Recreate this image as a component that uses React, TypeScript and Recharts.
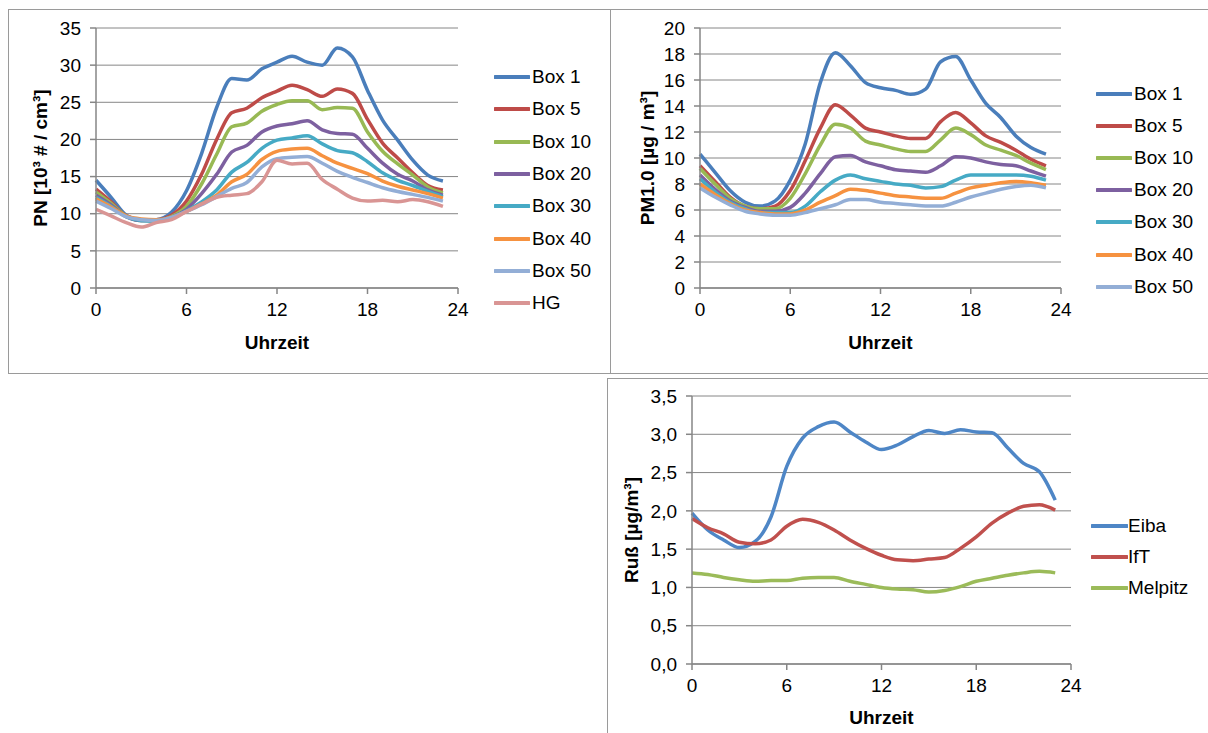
import React from 'react';
import { LineChart, Line, XAxis, YAxis, CartesianGrid, Legend, Label } from 'recharts';

// ---------- data ----------
const hours = [0, 1, 2, 3, 4, 5, 6, 7, 8, 9, 10, 11, 12, 13, 14, 15, 16, 17, 18, 19, 20, 21, 22, 23];

// PN [10^3 # / cm^3]
const pnNames = ['Box 1', 'Box 5', 'Box 10', 'Box 20', 'Box 30', 'Box 40', 'Box 50', 'HG'];
const pnBox1 = [14.5, 12.2, 9.8, 9.1, 9.2, 10.2, 13.1, 18.1, 24.3, 28.2, 28.0, 29.5, 30.4, 31.2, 30.4, 30.0, 32.3, 31.1, 26.6, 22.6, 19.9, 17.2, 15.2, 14.4];
const pnBox5 = [13.3, 11.6, 9.7, 9.2, 9.2, 9.8, 11.7, 15.3, 20.0, 23.6, 24.2, 25.6, 26.5, 27.3, 26.7, 25.8, 26.8, 26.2, 22.7, 19.5, 17.5, 15.5, 13.8, 13.2];
const pnBox10 = [12.9, 11.4, 9.7, 9.1, 9.1, 9.6, 11.0, 14.0, 18.0, 21.7, 22.2, 23.8, 24.7, 25.2, 25.2, 24.0, 24.3, 24.2, 21.0, 18.4, 16.7, 15.2, 13.6, 12.8];
const pnBox20 = [12.5, 11.2, 9.6, 9.1, 9.1, 9.5, 10.6, 12.7, 15.3, 18.3, 19.2, 21.0, 21.8, 22.1, 22.5, 21.3, 20.8, 20.7, 18.8, 16.8, 15.3, 14.4, 13.2, 12.5];
const pnBox30 = [12.2, 11.0, 9.6, 9.1, 9.0, 9.4, 10.4, 11.6, 13.2, 15.6, 16.9, 18.8, 19.9, 20.2, 20.5, 19.4, 18.5, 18.2, 17.0, 15.5, 14.5, 13.8, 13.0, 12.3];
const pnBox40 = [12.0, 10.9, 9.7, 9.3, 9.2, 9.5, 10.3, 11.3, 12.5, 14.3, 15.3, 17.3, 18.4, 18.7, 18.8, 17.8, 16.8, 16.1, 15.4, 14.4, 13.7, 13.2, 12.7, 12.1];
const pnBox50 = [11.7, 10.7, 9.6, 9.2, 9.1, 9.5, 10.3, 11.2, 12.3, 13.4, 14.2, 16.3, 17.4, 17.6, 17.7, 16.8, 15.7, 14.9, 14.2, 13.5, 13.0, 12.6, 12.2, 11.7];
const pnHG = [10.6, 9.7, 8.8, 8.2, 8.8, 9.2, 10.3, 11.3, 12.2, 12.5, 12.7, 14.3, 17.2, 16.7, 16.8, 14.6, 13.3, 12.1, 11.7, 11.8, 11.6, 11.9, 11.6, 11.0];
const pnTicks = [0, 5, 10, 15, 20, 25, 30, 35];

// PM1.0 [µg / m^3]
const pmNames = ['Box 1', 'Box 5', 'Box 10', 'Box 20', 'Box 30', 'Box 40', 'Box 50'];
const pmBox1 = [10.3, 8.9, 7.5, 6.6, 6.3, 6.7, 8.3, 11.1, 15.8, 18.1, 17.1, 15.8, 15.4, 15.2, 14.9, 15.3, 17.4, 17.8, 16.0, 14.2, 13.1, 11.7, 10.8, 10.3];
const pmBox5 = [9.4, 8.2, 7.0, 6.3, 6.1, 6.3, 7.5, 9.8, 12.3, 14.1, 13.3, 12.3, 12.0, 11.7, 11.5, 11.5, 12.8, 13.5, 12.7, 11.7, 11.2, 10.6, 9.9, 9.4];
const pmBox10 = [9.2, 8.0, 6.9, 6.3, 6.1, 6.1, 6.9, 8.8, 11.0, 12.6, 12.3, 11.3, 11.0, 10.7, 10.5, 10.5, 11.4, 12.3, 11.8, 11.0, 10.6, 10.2, 9.6, 9.1];
const pmBox20 = [8.7, 7.6, 6.7, 6.2, 5.9, 5.9, 6.2, 7.3, 8.8, 10.1, 10.2, 9.7, 9.4, 9.1, 9.0, 8.9, 9.4, 10.1, 10.0, 9.7, 9.5, 9.4, 9.0, 8.6];
const pmBox30 = [8.4, 7.4, 6.6, 6.1, 5.8, 5.8, 5.8, 6.3, 7.4, 8.3, 8.7, 8.4, 8.2, 8.0, 7.9, 7.7, 7.8, 8.3, 8.7, 8.7, 8.7, 8.7, 8.6, 8.3];
const pmBox40 = [8.0, 7.2, 6.5, 6.0, 5.8, 5.7, 5.7, 6.0, 6.6, 7.1, 7.6, 7.5, 7.3, 7.1, 7.0, 6.9, 6.9, 7.3, 7.7, 7.9, 8.1, 8.2, 8.1, 7.9];
const pmBox50 = [7.7, 7.0, 6.4, 5.9, 5.7, 5.6, 5.6, 5.8, 6.1, 6.4, 6.8, 6.8, 6.6, 6.5, 6.4, 6.3, 6.3, 6.6, 7.0, 7.3, 7.6, 7.8, 7.9, 7.7];
const pmTicks = [0, 2, 4, 6, 8, 10, 12, 14, 16, 18, 20];

// Ruß [µg/m^3]
const bcNames = ['Eiba', 'IfT', 'Melpitz'];
const bcEiba = [1.97, 1.75, 1.62, 1.52, 1.60, 1.92, 2.58, 2.95, 3.10, 3.16, 3.03, 2.90, 2.80, 2.86, 2.97, 3.05, 3.01, 3.06, 3.03, 3.02, 2.82, 2.62, 2.51, 2.14];
const bcIfT = [1.90, 1.78, 1.70, 1.59, 1.57, 1.62, 1.80, 1.89, 1.85, 1.75, 1.62, 1.51, 1.42, 1.36, 1.35, 1.37, 1.39, 1.51, 1.66, 1.84, 1.97, 2.06, 2.08, 2.01];
const bcMelpitz = [1.19, 1.17, 1.13, 1.10, 1.08, 1.09, 1.09, 1.12, 1.13, 1.13, 1.08, 1.04, 1.00, 0.98, 0.97, 0.94, 0.96, 1.01, 1.08, 1.12, 1.16, 1.19, 1.21, 1.19];
const bcTicks = [0, 0.5, 1, 1.5, 2, 2.5, 3, 3.5];

const xTicks = [0, 6, 12, 18, 24];

// ---------- styling ----------
const boxColors = ['#4A7EBB', '#BE4B48', '#98B954', '#7D60A0', '#46AAC5', '#F69240', '#93AED6', '#D99594'];
const bcColors = ['#4E86C6', '#C0504D', '#9BBB59'];
const FONT = '"Liberation Sans", Arial, sans-serif';
const AXIS = '#868686';
const FS = 19;

function buildRows(series: number[][]) {
  return hours.map((h, i) => {
    const r: Record<string, number> = { h };
    series.forEach((s, j) => {
      r['s' + j] = s[i];
    });
    return r;
  });
}

type PanelProps = {
  left: number;
  top: number;
  width: number;
  height: number;
  margin: { top: number; right: number; bottom: number; left: number };
  yWidth: number;
  names: string[];
  series: number[][];
  colors: string[];
  yTicks: number[];
  yFmt?: (v: number) => string;
  yTitle: React.ReactNode;
  yTitleGap: number;
  xTitleGap: number;
  legendLeft: number;
  legendTop: number;
  rowH: number;
  lineW: number;
  textGap: number;
};

function Panel(p: PanelProps) {
  const rows = buildRows(p.series);
  const yMax = p.yTicks[p.yTicks.length - 1];
  const legendContent = () => (
    <div style={{ fontFamily: FONT, fontSize: FS, color: '#000' }}>
      {p.names.map((n, i) => (
        <div key={n} style={{ height: p.rowH, display: 'flex', alignItems: 'center', whiteSpace: 'nowrap' }}>
          <svg width={p.lineW} height={6} style={{ display: 'block' }}>
            <line x1={1} y1={3} x2={p.lineW - 1} y2={3} stroke={p.colors[i]} strokeWidth={4} strokeLinecap="round" />
          </svg>
          <span style={{ marginLeft: p.textGap }}>{n}</span>
        </div>
      ))}
    </div>
  );
  return (
    <div style={{ position: 'absolute', left: p.left, top: p.top }}>
      <LineChart width={p.width} height={p.height} data={rows} margin={p.margin}>
        <CartesianGrid vertical={false} stroke={AXIS} strokeWidth={1} />
        <XAxis
          dataKey="h"
          type="number"
          domain={[0, 24]}
          ticks={xTicks}
          interval={0}
          height={60}
          stroke={AXIS}
          strokeWidth={1.5}
          tickSize={6}
          tickMargin={9}
          tick={{ fill: '#000', fontSize: FS, fontFamily: FONT }}
          tickLine={{ stroke: AXIS, strokeWidth: 1.5 }}
        >
          <Label
            content={(props: any) => {
              const vb = props.viewBox || {};
              const cx = (vb.x ?? 0) + (vb.width ?? 0) / 2;
              const y = (vb.y ?? 0) + p.xTitleGap;
              return (
                <text x={cx} y={y} textAnchor="middle" fontFamily={FONT} fontSize={FS} fontWeight="bold" fill="#000">
                  Uhrzeit
                </text>
              );
            }}
          />
        </XAxis>
        <YAxis
          type="number"
          domain={[0, yMax]}
          ticks={p.yTicks}
          interval={0}
          width={p.yWidth}
          stroke={AXIS}
          strokeWidth={1.5}
          tickSize={6}
          tickMargin={9}
          tickFormatter={p.yFmt}
          tick={{ fill: '#000', fontSize: FS, fontFamily: FONT }}
          tickLine={{ stroke: AXIS, strokeWidth: 1.5 }}
        >
          <Label
            content={(props: any) => {
              const vb = props.viewBox || {};
              const axisX = (vb.x ?? 0) + (vb.width ?? 0);
              const cy = (vb.y ?? 0) + (vb.height ?? 0) / 2;
              const x = axisX - p.yTitleGap;
              return (
                <text
                  x={x}
                  y={cy}
                  transform={`rotate(-90, ${x}, ${cy})`}
                  textAnchor="middle"
                  fontFamily={FONT}
                  fontSize={FS}
                  fontWeight="bold"
                  fill="#000"
                >
                  {p.yTitle}
                </text>
              );
            }}
          />
        </YAxis>
        <Legend
          layout="vertical"
          align="center"
          verticalAlign="middle"
          wrapperStyle={{ left: p.legendLeft, top: p.legendTop, width: 120 }}
          content={legendContent}
        />
        {p.series.map((_, i) => (
          <Line
            key={i}
            name={p.names[i]}
            dataKey={'s' + i}
            type="monotone"
            stroke={p.colors[i]}
            strokeWidth={3.5}
            dot={false}
            activeDot={false}
            isAnimationActive={false}
          />
        ))}
      </LineChart>
    </div>
  );
}

const fmtComma = (v: number) => v.toFixed(1).replace('.', ',');

export default function App() {
  return (
    <div
      style={{
        position: 'absolute',
        left: 0,
        top: 0,
        width: 1208,
        height: 733,
        overflow: 'hidden',
        background: '#fff',
        fontFamily: FONT,
      }}
    >
      {/* panel frames */}
      <div style={{ position: 'absolute', left: 8, top: 9, width: 603, height: 365, border: '1px solid #9a9a9a', boxSizing: 'border-box' }} />
      <div style={{ position: 'absolute', left: 610, top: 9, width: 640, height: 365, border: '1px solid #9a9a9a', boxSizing: 'border-box' }} />
      <div style={{ position: 'absolute', left: 607, top: 378, width: 640, height: 400, border: '1px solid #9a9a9a', boxSizing: 'border-box' }} />

      <Panel
        left={8}
        top={9}
        width={603}
        height={364}
        margin={{ top: 19, right: 153, bottom: 25, left: 0 }}
        yWidth={88}
        names={pnNames}
        series={[pnBox1, pnBox5, pnBox10, pnBox20, pnBox30, pnBox40, pnBox50, pnHG]}
        colors={boxColors}
        yTicks={pnTicks}
        yTitle="PN [10³ # / cm³]"
        yTitleGap={49}
        xTitleGap={61}
        legendLeft={486}
        legendTop={52}
        rowH={32.3}
        lineW={36}
        textGap={2}
      />
      <Panel
        left={611}
        top={9}
        width={597}
        height={364}
        margin={{ top: 19, right: 147, bottom: 25, left: 0 }}
        yWidth={89}
        names={pmNames}
        series={[pmBox1, pmBox5, pmBox10, pmBox20, pmBox30, pmBox40, pmBox50]}
        colors={boxColors}
        yTicks={pmTicks}
        yTitle="PM1.0 [µg / m³]"
        yTitleGap={46}
        xTitleGap={61}
        legendLeft={485}
        legendTop={69}
        rowH={32.1}
        lineW={36}
        textGap={2}
      />
      <Panel
        left={608}
        top={379}
        width={600}
        height={354}
        margin={{ top: 17, right: 137, bottom: 9, left: 0 }}
        yWidth={84}
        names={bcNames}
        series={[bcEiba, bcIfT, bcMelpitz]}
        colors={bcColors}
        yTicks={bcTicks}
        yFmt={fmtComma}
        yTitle="Ruß [µg/m³]"
        yTitleGap={54}
        xTitleGap={60}
        legendLeft={483}
        legendTop={131.5}
        rowH={31}
        lineW={37}
        textGap={0}
      />
    </div>
  );
}
